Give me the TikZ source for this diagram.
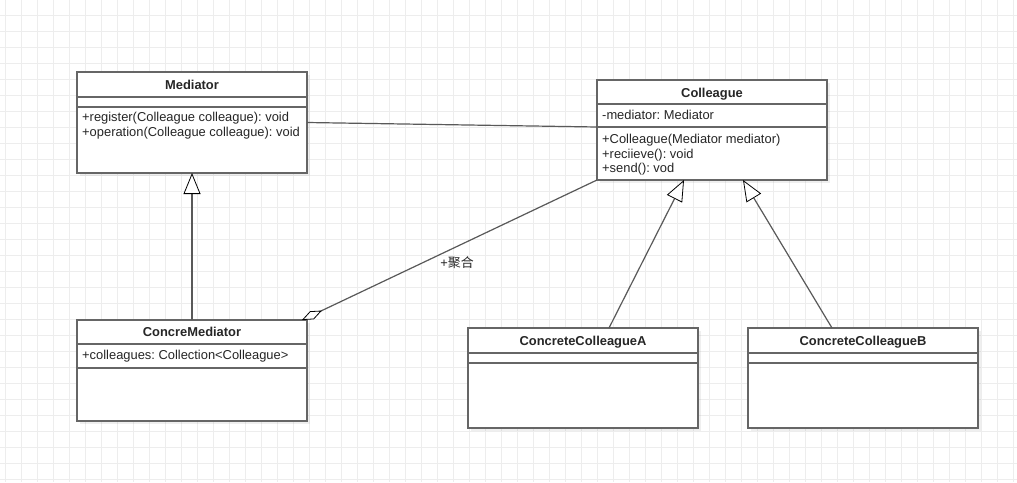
\documentclass[tikz,border=0pt]{standalone}
\usepackage{fontspec}
\setmainfont{Liberation Sans}
\newfontfamily\cjk{Noto Sans CJK SC}
\usetikzlibrary{arrows.meta,shadows}
\frenchspacing

\begin{document}
\begin{tikzpicture}[x=1pt,y=-1pt,
    gridline/.style={draw=black!7, line width=1pt},
    umlbox/.style={draw=black!60, line width=1.3pt, fill=white, anchor=north west, inner sep=0pt, outer sep=0pt,
        minimum width=230pt, drop shadow={shadow xshift=3pt, shadow yshift=-3pt, opacity=0.12}},
    sepline/.style={draw=black!60, line width=1.3pt},
    title/.style={font=\fontsize{12.9}{14.7}\selectfont\bfseries, text=black!85, anchor=base, inner sep=0pt},
    member/.style={font=\fontsize{12.9}{14.7}\selectfont, text=black!85, anchor=base west, inner sep=0pt},
    conn/.style={draw=black!65, line width=1.2pt},
    inherit/.style={conn, -{Triangle[length=21pt, width=17pt, fill=white, color=black, line width=0.8pt]}},
    aggr/.style={conn, -{Diamond[length=22pt, width=9pt, fill=white, color=black, line width=0.8pt]}}]
    \useasboundingbox (0,0) rectangle (1017,482);
    \fill[white] (0,0) rectangle (1017,482);
    % background grid
    \foreach \gx in {5,21,...,1013} \draw[gridline] (\gx,0) -- (\gx,482);
    \foreach \gy in {15.5,31.5,...,479.5} \draw[gridline] (0,\gy) -- (1017,\gy);

    % Mediator
    \node[umlbox, minimum height=101pt] (med) at (77,72) {};
    \draw[sepline] ([yshift=-25pt]med.north west) -- ([yshift=-25pt]med.north east);
    \draw[sepline] ([yshift=-35pt]med.north west) -- ([yshift=-35pt]med.north east);
    \node[title] (med name) at (192,89) {Mediator};
    \node[member] (med op1) at (82,121.5) {+register(Colleague colleague): void};
    \node[member] (med op2) at (82,136.5) {+operation(Colleague colleague): void};

    % Colleague
    \node[umlbox, minimum height=100pt] (col) at (597,80) {};
    \draw[sepline] ([yshift=-24pt]col.north west) -- ([yshift=-24pt]col.north east);
    \draw[sepline] ([yshift=-47pt]col.north west) -- ([yshift=-47pt]col.north east);
    \node[title] (col name) at (712,97.5) {Colleague};
    \node[member] (col attr) at (602,119.5) {-mediator: Mediator};
    \node[member] (col op1) at (602,143.5) {+Colleague(Mediator mediator)};
    \node[member] (col op2) at (602,158) {+reciieve(): void};
    \node[member] (col op3) at (602,172.5) {+send(): vod};

    % ConcreMediator
    \node[umlbox, minimum height=101pt] (cmed) at (77,320) {};
    \draw[sepline] ([yshift=-24pt]cmed.north west) -- ([yshift=-24pt]cmed.north east);
    \draw[sepline] ([yshift=-48pt]cmed.north west) -- ([yshift=-48pt]cmed.north east);
    \node[title] (cmed name) at (192,336.5) {ConcreMediator};
    \node[member] (cmed attr) at (82,359.5) {+colleagues: Collection<Colleague>};

    % ConcreteColleagueA and ConcreteColleagueB
    \node[umlbox, minimum height=100pt] (ccA) at (468,328) {};
    \draw[sepline] ([yshift=-25pt]ccA.north west) -- ([yshift=-25pt]ccA.north east);
    \draw[sepline] ([yshift=-35pt]ccA.north west) -- ([yshift=-35pt]ccA.north east);
    \node[title] (ccA name) at (583,345.5) {ConcreteColleagueA};
    \node[umlbox, minimum height=100pt] (ccB) at (748,328) {};
    \draw[sepline] ([yshift=-25pt]ccB.north west) -- ([yshift=-25pt]ccB.north east);
    \draw[sepline] ([yshift=-35pt]ccB.north west) -- ([yshift=-35pt]ccB.north east);
    \node[title] (ccB name) at (863,345.5) {ConcreteColleagueB};

    % relations
    \draw[conn] (med.east) -- ([yshift=3pt]col.west);
    \draw[inherit] (cmed.north) -- (med.south);
    \draw[inherit] ([xshift=26pt]ccA.north) -- ([xshift=-28pt]col.south);
    \draw[inherit] ([xshift=-31pt]ccB.north) -- ([xshift=31pt]col.south);
    \draw[aggr] (col.south west) -- ([xshift=-5pt]cmed.north east);
    \node[font=\fontsize{12.9}{14.7}\selectfont, text=black!85, inner sep=0pt] (agg label) at (457,263) {+{\cjk 聚合}};
\end{tikzpicture}
\end{document}
